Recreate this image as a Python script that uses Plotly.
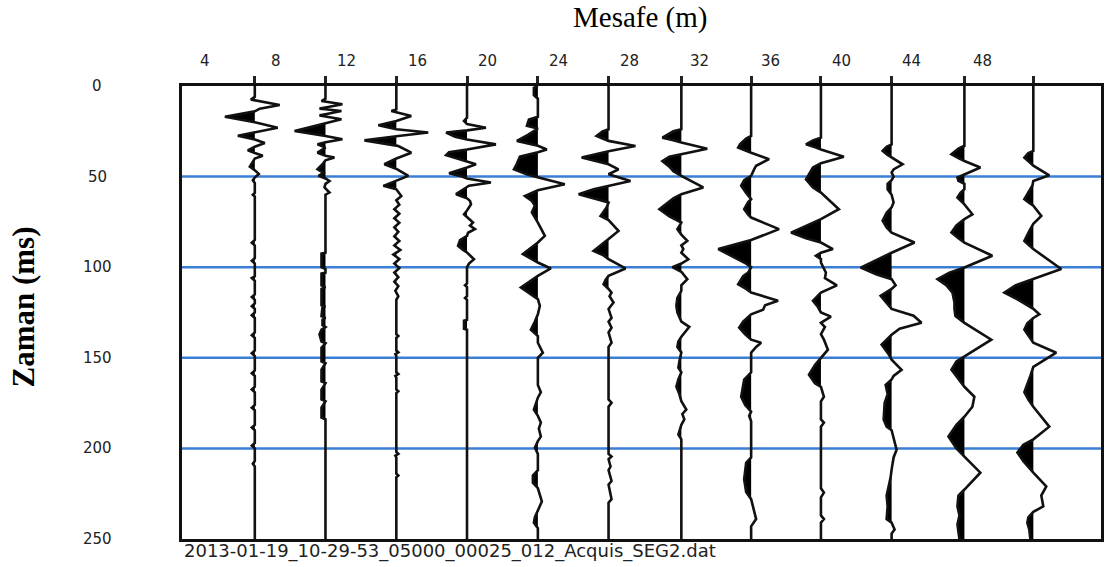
import plotly.graph_objects as go

# ---------------- data ----------------
distance_labels = [4, 8, 12, 16, 20, 24, 28, 32, 36, 40, 44, 48]
trace_offsets = [6.82, 10.82, 14.83, 18.83, 22.84, 26.84, 30.96, 34.91, 38.86, 42.86, 46.98, 50.88]
time_ticks = [0, 50, 100, 150, 200, 250]
grid_times = [50, 100, 150, 200]
file_name = "2013-01-19_10-29-53_05000_00025_012_Acquis_SEG2.dat"

# each trace: (time ms, amplitude) key points read from the record
trace_01 = [(0,0),(6,0),(7.5,-4),(10.5,25),(12.5,5),(14,0),(17,-30),(20,0),(23,23),(25.5,0),(27.5,-17),(29.5,0),
            (31.5,10),(33.5,0),(35.5,-7),(37,0),(38.5,8),(40,0),(42,-2),(44.5,-5),(46.5,0),(48.5,4),(50.5,0),(52,-2),
            (53.5,0),(59,0),(60,-2),(61,0),(85,0),(86.5,-3),(88,0),(95,0),(96.5,-3),(98,0),(105,0),(106,-3),(107.5,0),
            (115,0),(116.5,-3),(118,0),(120,0),(121.5,-3),(123,0),(125,0),(126.5,-3),(128,0),(136,0),(137.5,-3),(139,0),
            (146,0),(147.5,-3),(149,0),(157,0),(158.5,-3),(160,0),(166,0),(167.5,-3),(169,0),(176,0),(177.5,-3),(179,0),
            (187,0),(188.5,-3),(190,0),(197,0),(198.5,-3),(200,0),(207,0),(208.5,-2),(210,0),(250,0)]
trace_02 = [(0,0),(7,0),(8.3,-4),(10.1,17),(12.5,-6),(13.8,16),(16.2,-6),(18.4,16),(20.5,0),(24.8,-31),(27.6,0),
            (29.4,17),(31,0),(32.2,-8),(34,0),(35,-3),(36.8,-8),(38.5,0),(39.5,9),(41,0),(43.2,-3),(46,-8),(48,-2),
            (49.6,-7),(51,0),(52.4,4),(54,0),(56,-1),(58.8,4),(60,0),(92,0),(92.5,-4),(100,-4),(101,0),(103,0),(103.5,-4),
            (110,-4),(111,0),(112,-4),(121,-4),(121.5,0),(122,-3),(127,-4),(128,0),(129,-3),(132,-3),(133,0),(134.5,-4),
            (137,-6),(141,-4),(142,0),(144.5,-4),(152,-4),(153,0),(156.5,-4),(163,-4),(164,0),(167.5,-4),(173,-4),
            (174,0),(177.5,-4),(183,-4),(184,0),(250,0)]
trace_03 = [(0,0),(12.9,0),(13.8,-5),(16.5,15),(19.3,0),(21.7,-18),(23.9,0),(25.7,32),(27.6,2),(30,-32),(33.1,2),
            (36.8,15),(39.5,2),(43.2,-12),(46,1),(49.6,12),(52.4,0),(55.1,-13),(57,0),(60.7,5),(63,0),(65.5,3),(68,-2),
            (70.5,3),(73,-2),(75.5,3),(78,-2),(80.5,2),(83,-2),(85.5,3),(88,-2),(90.5,4),(93,-3),(95.5,3),(98,-2),
            (100.5,3),(103,-2),(105.5,2),(108,-2),(110.5,2),(113,-1),(116,2),(118,0),(137,0),(138,2),(139,0),(146,0),
            (147,2),(148,-1),(149,0),(158,0),(159,2),(160,-1),(161,0),(167.5,0),(168.5,2),(169.5,0),(202,0),(203,2),
            (204,-1),(205,0),(214,0),(215,2),(216,0),(250,0)]
trace_04 = [(0,0),(17.5,0),(19.3,-3),(21,0),(23,19),(24.5,0),(25.7,-21),(28,-12),(29.5,0),(32.2,29),(35,0),
            (36.5,-18),(38.2,-21),(40.5,-8),(41.5,0),(43.2,9),(45,0),(48.2,-18),(50,-5),(51,0),(53.3,24),(55,2),
            (59.7,-11),(62,0),(63.4,3),(65.3,4),(68,1),(70.8,-3),(73,1),(75.4,6),(77,3),(79,8),(81,1),(82.7,0),
            (85,-7),(88.2,-9),(90.5,-4),(91.9,0),(95.6,7),(98,2),(100,0),(109,0),(110,-2),(111,0),(116,0),(117,-2),
            (118,0),(129,0),(129.5,-3),(134,-3),(134.5,0),(250,0)]
trace_05 = [(0,0),(1,-4),(5,-4),(7,0),(17,0),(18.5,-9),(22,-11),(23.5,0),(27,-10),(30.3,-21),(33,0),(35,9),
            (36.5,0),(39,-18),(44,-22),(46,-24),(49,-10),(50.5,0),(54.2,27),(57.5,0),(60.7,-13),(63.5,-6),(66,-3),
            (69.8,-6),(73,-3),(75.4,0),(82.7,7),(86.4,0),(92.8,-15),(97.4,0),(100.7,13),(104.8,0),(111.2,-17),
            (117.6,0),(121.3,2),(126,0),(130,-3),(134.5,-7),(138,0),(141.7,0),(147.2,5),(150,0),(153.8,0),(165,0),
            (169,3),(172,0),(178.6,-4),(182,0),(185.8,3),(189,1),(193.5,3),(196,0),(199.6,-3),(203,0),(212,0),
            (215,-5),(218.9,-5),(222,0),(229.3,4),(233.8,0),(238,-3),(241,-4),(244,0),(250,0)]
trace_06 = [(0,0),(23.9,0),(25,-6),(27.6,-12),(29,-6),(30.3,0),(33.1,27),(36,0),(39.5,-27),(43.2,0),(46,10),
            (48.7,0),(52.4,22),(55,0),(57,-15),(59.7,-30),(62,-15),(64.3,0),(67,-2),(71.7,-8),(74,0),(80,10),(84.5,0),
            (88,-8),(91,-15),(93.5,-5),(95.6,0),(100.7,17),(104.8,0),(107,-3),(109.4,-5),(112,0),(114,3),(116,1),
            (119.5,5),(123,0),(128,3),(130,0),(133.4,3),(136,0),(141.7,3),(144,0),(173,0),(174.8,3),(177,0),(203,0),
            (204.5,3),(206,0),(210,2),(212,0),(218,3),(220,0),(228,3),(230,0),(250,0)]
trace_07 = [(0,0),(23.9,0),(25,-8),(28.5,-19),(30,-8),(31.2,0),(34.6,26),(37.5,0),(39,-12),(41.4,-19),(44.5,-12),
            (47,-8),(49.6,0),(56,22),(59.7,0),(62,-8),(68,-22),(72,-12),(75.4,0),(79,-4),(82,0),(85.5,6),(88,0),
            (90,2),(92,0),(95.6,7),(98,0),(100,-9),(102.5,0),(106.6,6),(110,0),(113,0),(117,-4),(121.3,-5),(125,-4),
            (130,0),(132.9,8),(138.4,0),(141,-3),(144,-4),(147,0),(152,-2),(155.5,-3),(158,0),(162,-3),(166,-5),
            (170,-2),(174,0),(178.6,5),(181,1),(184,3),(187,0),(192.4,-3),(195,0),(250,0)]
trace_08 = [(0,0),(27.6,0),(29,-5),(32,-11),(34,-13),(35.5,-5),(36.8,0),(40.4,18),(44,5),(46,3),(49.6,0),(52,-7),
            (55,-10),(59,-5),(62.4,0),(64,-3),(68,-7),(71,-3),(72.6,0),(79,28),(83.6,5),(85,0),(90,-33),(95,-15),
            (98,-5),(100,0),(103,-3),(105,-8),(109.4,-13),(112,-5),(114,0),(118.5,27),(121,14),(123.5,12),(126,0),
            (130,-8),(133.4,-12),(137,-6),(140,0),(141.7,10),(144,5),(147.2,0),(158,0),(162,-7),(171.5,-10),(176,-6),
            (179.7,0),(182,-2),(185,0),(205,0),(208,-5),(217,-7),(224,-5),(228,0),(233,2),(239,5),(243,0),(250,0)]
trace_09 = [(0,0),(28.5,0),(30,-8),(32.2,-15),(34,-5),(35,0),(39,23),(42.6,0),(45,-8),(51.5,-15),(56,-8),(58.8,0),
            (68,18),(73.5,0),(80.9,-30),(84,-15),(86.4,0),(90,12),(92,0),(93.7,-5),(95.5,0),(97.4,0),(103,5),(106,4),
            (110,16),(114,0),(118.5,-8),(122,-3),(125,0),(127.3,10),(130.7,0),(133,4),(137,0),(140,3),(145.5,7),
            (150,0),(154,-6),(159.3,-12),(164,-6),(166,0),(171.5,3),(174,0),(184,0),(185.8,3),(188,0),(222,0),
            (224.4,3),(227,0),(237,0),(239,3),(241,0),(250,0)]
trace_10 = [(0,0),(32.2,0),(33.5,-5),(35.8,-9),(38,-4),(39.5,0),(43.2,11),(46,2),(47.8,0),(50,2),(52,0),(54,-4),
            (57,-4),(60,0),(64.3,2),(67,0),(70,-5),(74.4,-9),(78,-5),(81,0),(86.4,23),(92,0),(95,-12),(100.2,-31),
            (104,-15),(106.6,0),(110,4),(112,0),(115.8,-11),(119,-6),(123,0),(126.8,22),(130.7,30),(134,8),(137.3,0),
            (142.8,-10),(148,-3),(151,0),(156.6,10),(160,2),(162,0),(165,-6),(170,-4),(175,-7),(184,-8),(188,-5),
            (190,0),(200.7,5),(205,2),(211.7,0),(216,-1),(226,-5),(232,-4),(239,-5),(241,0),(244.8,3),(247,0),(250,0)]
trace_11 = [(0,0),(33,0),(34.5,-6),(37.7,-13),(40,-5),(41.4,0),(45,16),(48.7,0),(50.5,-7),(52.4,-6),(54,0),(57,0),
            (59,-4),(61.6,-7),(63.5,-3),(65.3,0),(70.8,8),(73.5,0),(77,-8),(80.9,-13),(84,-6),(86.4,0),(93.7,28),
            (100.2,0),(103,-15),(106.6,-27),(110,-18),(114,-12),(119.5,-10),(123,-10),(127,-9),(130.7,0),(140,27),
            (149,0),(152,-8),(156.6,-13),(162,-6),(166,0),(171.5,10),(177,8),(182.5,0),(187,-8),(193.5,-16),(200,-8),
            (204.5,0),(213.4,16),(222.7,0),(226,-6),(232,-7),(237,-5),(242,-7),(246,-6),(250,-5)]
trace_12 = [(0,0),(35.8,0),(37,-5),(39.5,-9),(42,-4),(44,0),(49.3,16),(52.4,0),(55,-1),(58,-4),(62.5,-9),(64.5,-4),
            (66,0),(71.7,8),(76,0),(80,-4),(85.5,-9),(88,-4),(90,0),(101,28),(106.6,0),(110,-18),(114,-29),(118,-15),
            (123,0),(126,6),(128,0),(131,-6),(134.5,-9),(138,-5),(141.7,0),(147.2,23),(155,0),(160,-3),(165,-6),
            (169,-9),(173,-5),(177,0),(188,16),(195,0),(198,-10),(202.3,-16),(207,-10),(213.4,0),(221,13),(226,8),
            (232,10),(235,0),(238,-5),(241,-6),(245,-4),(250,-3)]

traces = [trace_01, trace_02, trace_03, trace_04, trace_05, trace_06,
          trace_07, trace_08, trace_09, trace_10, trace_11, trace_12]

# ---------------- styling ----------------
GAIN = 1 / 17.73          # amplitude units -> metres on the distance axis
X_RANGE = [2.70, 54.71]
T_MAX = 250


def with_crossings(points):
    out = [points[0]]
    for (t0, a0), (t1, a1) in zip(points[:-1], points[1:]):
        if a0 * a1 < 0:
            tc = t0 + (t1 - t0) * a0 / (a0 - a1)
            out.append((tc, 0))
        out.append((t1, a1))
    return out


fig = go.Figure()

for base, pts in zip(trace_offsets, traces):
    p = with_crossings(pts)
    # variable-area fill (negative lobes)
    fx = [base + min(a, 0) * GAIN for t, a in p] + [base, base]
    fy = [t for t, a in p] + [T_MAX, 0]
    fig.add_trace(go.Scatter(x=fx, y=fy, mode="lines", fill="toself", fillcolor="black",
                             line=dict(width=0, color="black"), hoverinfo="skip", showlegend=False))
    # wiggle line
    fig.add_trace(go.Scatter(x=[base + a * GAIN for t, a in p], y=[t for t, a in p], mode="lines",
                             line=dict(color="#111111", width=2.6), hoverinfo="skip", showlegend=False))

for gt in grid_times:
    fig.add_shape(type="line", xref="paper", x0=0, x1=1, yref="y", y0=gt, y1=gt,
                  line=dict(color="#3a7fd5", width=2.5), layer="below")

annotations = []
for v in distance_labels:
    annotations.append(dict(x=v, xref="x", y=1.0552, yref="paper", text=str(v), showarrow=False,
                            xanchor="center", yanchor="middle",
                            font=dict(family="DejaVu Sans", size=15, color="#222222")))
for v in time_ticks:
    annotations.append(dict(x=-0.0922, xref="paper", y=v, yref="y", text=str(v), showarrow=False,
                            xanchor="center", yanchor="middle",
                            font=dict(family="DejaVu Sans", size=15, color="#222222")))
annotations.append(dict(x=0.498, xref="paper", y=1.152, yref="paper", text="Mesafe (m)", showarrow=False,
                        xanchor="center", yanchor="middle",
                        font=dict(family="Liberation Serif", size=29, color="black")))
annotations.append(dict(x=-0.1725, xref="paper", y=0.512, yref="paper", text="<b>Zaman (ms)</b>",
                        showarrow=False, textangle=-90, xanchor="center", yanchor="middle",
                        font=dict(family="Liberation Serif", size=31, color="black")))
annotations.append(dict(x=0, xref="paper", y=-0.0265, yref="paper", text=file_name, showarrow=False,
                        xanchor="left", yanchor="middle",
                        font=dict(family="DejaVu Sans", size=18, color="#222222")))

fig.update_layout(
    width=1107, height=567,
    margin=dict(l=182, r=3, t=86, b=28),
    paper_bgcolor="white", plot_bgcolor="white",
    showlegend=False,
    annotations=annotations,
    xaxis=dict(range=X_RANGE, side="top", tickvals=trace_offsets, ticks="outside", ticklen=7,
               tickwidth=2.5, tickcolor="#222222", showticklabels=False, showgrid=False, zeroline=False,
               showline=True, linecolor="#111111", linewidth=2.5, mirror=True, fixedrange=True),
    yaxis=dict(range=[T_MAX, 0], showticklabels=False, ticks="", showgrid=False, zeroline=False,
               showline=True, linecolor="#111111", linewidth=2.5, mirror=True, fixedrange=True),
)

# remove the default 8px page margin so the figure fills the window exactly
fig.write_html("out.html", config={"displayModeBar": False},
               post_script="document.body.style.margin='0';")
